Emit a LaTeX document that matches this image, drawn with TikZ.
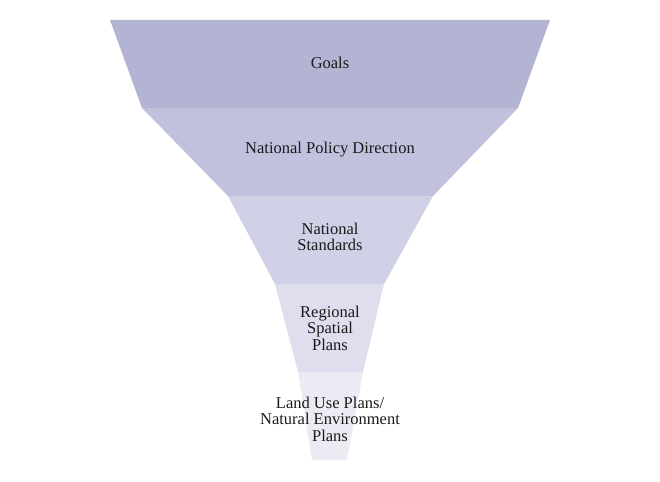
\documentclass[tikz,border=0pt]{standalone}
\usepackage{fontspec}
\setmainfont{Liberation Serif}
\definecolor{bandA}{HTML}{B3B3D4}
\definecolor{bandB}{HTML}{C1C1DD}
\definecolor{bandC}{HTML}{D0D0E6}
\definecolor{bandD}{HTML}{DEDEEE}
\definecolor{bandE}{HTML}{EBEBF4}
\definecolor{txt}{HTML}{1A1A1A}
\begin{document}
\begin{tikzpicture}[x=1pt,y=-1pt,
  band/.style={draw=none},
  lbl/.style={text=txt,align=center,font=\fontsize{16.5}{16.5}\selectfont,inner sep=0pt}]
\useasboundingbox (0,0) rectangle (660,481);
\fill[bandA] (110,20) -- (550,20) -- (518,108) -- (142,108) -- cycle;
\fill[bandB] (142,108) -- (518,108) -- (433,196) -- (228,196) -- cycle;
\fill[bandC] (228,196) -- (433,196) -- (384,284) -- (275,284) -- cycle;
\fill[bandD] (275,284) -- (384,284) -- (363,372) -- (298,372) -- cycle;
\fill[bandE] (298,372) -- (363,372) -- (347,460) -- (312,460) -- cycle;
\node[lbl] (goals) at (330,63) {Goals};
\node[lbl] (npd) at (330,150) {National Policy Direction};
\node[lbl] (ns) at (330,237) {National\\Standards};
\node[lbl] (rsp) at (330,328) {Regional\\Spatial\\Plans};
\node[lbl] (lup) at (330,419) {Land Use Plans/\\Natural Environment\\Plans};
\end{tikzpicture}
\end{document}
